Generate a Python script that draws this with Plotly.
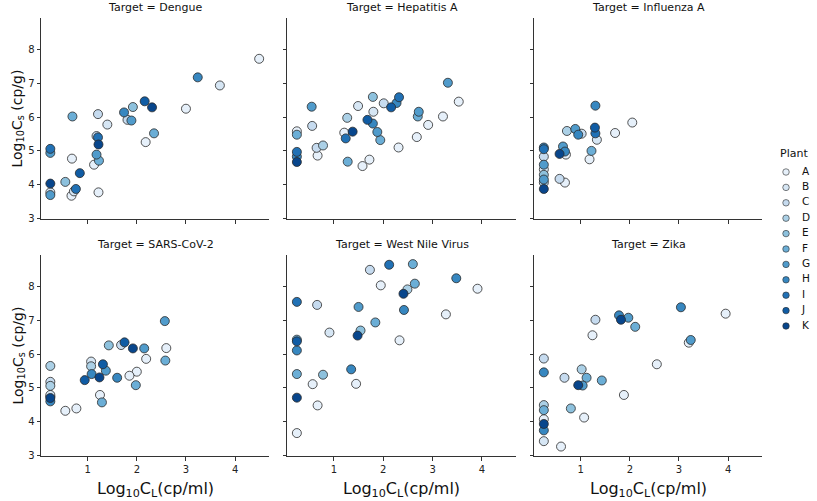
import plotly.graph_objects as go

plants = ["A", "B", "C", "D", "E", "F", "G", "H", "I", "J", "K"]
plant_colors = ["#e6f0fa", "#d6e6f4", "#c6dbef", "#abd0e6", "#8dc1dd", "#6baed6",
                "#509bcb", "#3787c0", "#2171b5", "#105ca4", "#08468c"]

targets = ["Dengue", "Hepatitis A", "Influenza A", "SARS-CoV-2", "West Nile Virus", "Zika"]

dengue_x = [4.49, 3.24, 3.69, 3.00, 2.16, 2.31, 1.92, 1.74, 1.81, 1.89, 0.69, 1.21, 1.40, 2.35, 2.18,
            1.18, 1.21, 1.22, 0.24, 0.24, 0.68, 1.18, 1.23, 1.13, 0.84, 0.24, 0.545, 0.72, 0.76, 0.24,
            0.24, 0.67, 1.22]
dengue_y = [7.73, 7.18, 6.94, 6.25, 6.47, 6.29, 6.30, 6.14, 5.92, 5.90, 6.02, 6.09, 5.78, 5.52, 5.26,
            5.44, 5.40, 5.19, 5.06, 4.94, 4.77, 4.89, 4.71, 4.59, 4.34, 4.03, 4.08, 3.80, 3.87, 3.77,
            3.69, 3.67, 3.77]
dengue_plant = ["A", "H", "B", "A", "J", "K", "E", "H", "C", "G", "F", "C", "B", "F", "A",
                "C", "I", "K", "I", "G", "A", "G", "F", "A", "J", "K", "E", "B", "I", "B",
                "G", "A", "A"]

hepa_x = [3.31, 3.53, 3.21, 2.91, 2.68, 2.70, 2.72, 2.32, 2.27, 2.16, 2.01, 1.79, 1.80, 1.49, 1.68,
          1.79, 1.88, 1.94, 1.27, 1.21, 1.38, 1.24, 2.31, 0.55, 0.56, 0.25, 0.25, 0.78, 0.65, 0.67,
          0.25, 0.25, 0.25, 1.28, 1.58, 1.72]
hepa_y = [7.02, 6.46, 6.02, 5.77, 5.41, 6.02, 6.16, 6.59, 6.42, 6.29, 6.41, 6.60, 6.16, 6.33, 5.92,
          5.81, 5.56, 5.32, 5.98, 5.54, 5.57, 5.37, 5.10, 6.31, 5.74, 5.58, 5.48, 5.16, 5.09, 4.86,
          4.97, 4.83, 4.67, 4.68, 4.55, 4.74]
hepa_plant = ["G", "A", "A", "A", "A", "F", "G", "I", "H", "J", "C", "E", "B", "B", "J",
              "H", "G", "F", "D", "A", "K", "I", "A", "G", "C", "A", "F", "D", "C", "A",
              "I", "H", "K", "F", "A", "A"]

flu_x = [1.30, 2.05, 1.70, 1.29, 1.30, 1.33, 0.72, 0.89, 1.02, 0.95, 1.22, 1.18, 0.64, 0.68, 0.70,
         0.57, 0.57, 0.68, 0.25, 0.25, 0.25, 0.25, 0.25, 0.25, 0.25, 0.25, 0.25]
flu_y = [6.34, 5.84, 5.53, 5.69, 5.52, 5.33, 5.59, 5.65, 5.51, 5.48, 5.00, 4.75, 5.13, 4.98, 4.89,
         4.91, 4.17, 4.06, 5.10, 5.05, 4.83, 4.59, 4.45, 4.29, 4.15, 4.06, 3.87]
flu_plant = ["H", "A", "A", "J", "I", "B", "D", "G", "C", "H", "F", "A", "G", "H", "A",
             "K", "C", "A", "H", "I", "C", "G", "B", "E", "G", "D", "K"]

sars_x = [2.57, 2.60, 2.58, 2.19, 2.15, 1.92, 1.75, 1.68, 1.43, 2.00, 1.85, 1.98, 1.60, 1.31, 1.37,
          1.24, 1.07, 1.07, 1.08, 0.94, 1.25, 1.29, 0.545, 0.77, 0.24, 0.24, 0.24, 0.24, 0.24, 0.24,
          0.24]
sars_y = [6.98, 6.18, 5.81, 5.86, 6.17, 6.17, 6.35, 6.27, 6.26, 5.48, 5.36, 5.08, 5.30, 5.70, 5.51,
          5.31, 5.78, 5.64, 5.41, 5.23, 4.79, 4.57, 4.32, 4.39, 5.65, 5.18, 5.06, 4.79, 4.74, 4.70,
          4.60]
sars_plant = ["G", "A", "F", "A", "G", "K", "J", "C", "E", "A", "A", "F", "H", "J", "G",
              "K", "B", "D", "H", "J", "A", "F", "A", "A", "D", "C", "D", "B", "A", "K",
              "H"]

wnv_x = [2.12, 2.60, 1.73, 3.48, 2.64, 1.95, 3.91, 2.49, 2.41, 0.25, 0.66, 1.50, 2.42, 3.27, 1.84,
         1.54, 0.91, 1.48, 2.33, 0.25, 0.25, 0.25, 0.25, 0.78, 1.35, 0.57, 1.45, 0.25, 0.67, 0.25]
wnv_y = [8.65, 8.67, 8.50, 8.25, 8.09, 8.04, 7.94, 7.92, 7.79, 7.55, 7.46, 7.40, 7.31, 7.18, 6.94,
         6.70, 6.64, 6.55, 6.41, 6.38, 6.43, 6.11, 5.41, 5.39, 5.55, 5.11, 5.12, 4.71, 4.48, 3.66]
wnv_plant = ["I", "F", "C", "H", "F", "A", "A", "D", "K", "I", "C", "G", "H", "A", "F",
             "E", "B", "K", "A", "J", "F", "H", "F", "E", "H", "A", "A", "K", "A", "A"]

zika_x = [3.04, 3.95, 1.78, 1.82, 1.97, 2.11, 1.30, 1.24, 3.24, 3.20, 2.55, 0.25, 0.25, 1.02, 0.67,
          1.12, 1.43, 1.04, 0.95, 1.88, 0.80, 1.07, 0.25, 0.25, 0.25, 0.25, 0.25, 0.25, 0.60]
zika_y = [7.39, 7.20, 7.15, 7.02, 7.08, 6.81, 7.02, 6.56, 6.42, 6.34, 5.70, 5.87, 5.46, 5.55, 5.30,
          5.30, 5.22, 5.07, 5.08, 4.79, 4.39, 4.12, 4.49, 4.34, 4.07, 3.93, 3.74, 3.42, 3.26]
zika_plant = ["H", "A", "H", "K", "G", "F", "C", "A", "G", "A", "A", "C", "H", "D", "C",
              "F", "F", "G", "K", "A", "E", "A", "D", "F", "A", "K", "H", "B", "A"]

x_ticks = [1, 2, 3, 4]
y_ticks = [3, 4, 5, 6, 7, 8]

panel_data = [
    (dengue_x, dengue_y, dengue_plant),
    (hepa_x, hepa_y, hepa_plant),
    (flu_x, flu_y, flu_plant),
    (sars_x, sars_y, sars_plant),
    (wnv_x, wnv_y, wnv_plant),
    (zika_x, zika_y, zika_plant),
]

W, H = 817, 501
col_px = [(41, 269), (287, 516), (534, 762)]
row_px = [(18, 219), (255, 456)]
FONT = "DejaVu Sans"

fig = go.Figure()

for p, col in zip(plants, plant_colors):
    for i, (xs, ys, ps) in enumerate(panel_data):
        px_ = [x for x, pl in zip(xs, ps) if pl == p]
        py_ = [y for y, pl in zip(ys, ps) if pl == p]
        if not px_:
            continue
        fig.add_trace(go.Scatter(
            x=px_, y=py_, mode="markers", name=p, legendgroup=p, showlegend=False,
            xaxis="x" if i == 0 else f"x{i+1}", yaxis="y" if i == 0 else f"y{i+1}",
            marker=dict(size=9, color=col, line=dict(color="#2a2a2a", width=0.8)),
            cliponaxis=False, hoverinfo="x+y+name",
        ))

# legend drawn in its own small axis: one marker + label per plant
fig.add_trace(go.Scatter(
    x=[0] * len(plants), y=list(range(len(plants))), mode="markers",
    xaxis="x7", yaxis="y7", showlegend=False, hoverinfo="skip", cliponaxis=False,
    marker=dict(size=6.5, color=plant_colors, line=dict(color="#2a2a2a", width=0.6)),
))
fig.add_trace(go.Scatter(
    x=[1.6] * len(plants), y=list(range(len(plants))), mode="text", text=plants,
    textposition="middle right", xaxis="x7", yaxis="y7", showlegend=False, hoverinfo="skip",
    cliponaxis=False, textfont=dict(family=FONT, size=10.5, color="#111111"),
))

axis_common = dict(showline=True, linecolor="#333333", linewidth=1, ticks="outside",
                   ticklen=3.5, tickwidth=1, tickcolor="#333333", showgrid=False,
                   zeroline=False, automargin=False,
                   tickfont=dict(family=FONT, size=10, color="#222222"))

layout = {}
for i in range(6):
    r, c = divmod(i, 3)
    x0, x1 = col_px[c]
    y0, y1 = row_px[r]
    xd = [x0 / W, x1 / W]
    yd = [1 - y1 / H, 1 - y0 / H]
    xname = "xaxis" if i == 0 else f"xaxis{i+1}"
    yname = "yaxis" if i == 0 else f"yaxis{i+1}"
    layout[xname] = dict(axis_common, domain=xd, range=[0.05, 4.69], tickvals=x_ticks,
                         anchor="y" if i == 0 else f"y{i+1}", showticklabels=(r == 1))
    layout[yname] = dict(axis_common, domain=yd, range=[2.98, 8.94], tickvals=y_ticks,
                         anchor="x" if i == 0 else f"x{i+1}", showticklabels=(c == 0))
    fig.add_annotation(text=f"Target = {targets[i]}", x=(xd[0] + xd[1]) / 2, y=1 - (y0 - 2) / H,
                       xref="paper", yref="paper", xanchor="center", yanchor="bottom",
                       showarrow=False, font=dict(family=FONT, size=11, color="#111111"))
    if r == 1:
        fig.add_annotation(text="Log<sub>10</sub>C<sub>L</sub>(cp/ml)", x=(xd[0] + xd[1]) / 2,
                           y=1 - 489 / H, xref="paper", yref="paper", xanchor="center",
                           yanchor="middle", showarrow=False,
                           font=dict(family=FONT, size=16, color="#111111"))
    if c == 0:
        fig.add_annotation(text="Log<sub>10</sub>C<sub>s</sub> (cp/g)", x=18 / W,
                           y=(yd[0] + yd[1]) / 2, xref="paper", yref="paper", xanchor="center",
                           yanchor="middle", textangle=-90, showarrow=False,
                           font=dict(family=FONT, size=14, color="#111111"))

layout["xaxis7"] = dict(domain=[776 / W, 1.0], range=[-1, 3.1], visible=False,
                        anchor="y7", automargin=False, fixedrange=True)
layout["yaxis7"] = dict(domain=[1 - 333.7 / H, 1 - 164.3 / H], range=[10.5, -0.5],
                        visible=False, anchor="x7", automargin=False, fixedrange=True)

fig.add_annotation(text="Plant", x=778 / W, y=1 - 153 / H, xref="paper", yref="paper",
                   xanchor="left", yanchor="middle", showarrow=False,
                   font=dict(family=FONT, size=11, color="#111111"))

fig.update_layout(
    **layout,
    width=W, height=H,
    margin=dict(l=0, r=0, t=0, b=0, autoexpand=False),
    paper_bgcolor="white", plot_bgcolor="white",
    font=dict(family=FONT, color="#111111"),
    showlegend=False,
)

fig.write_html("out.html", config={"displayModeBar": False},
               post_script="document.body.style.margin='0';document.body.style.overflow='hidden';")
